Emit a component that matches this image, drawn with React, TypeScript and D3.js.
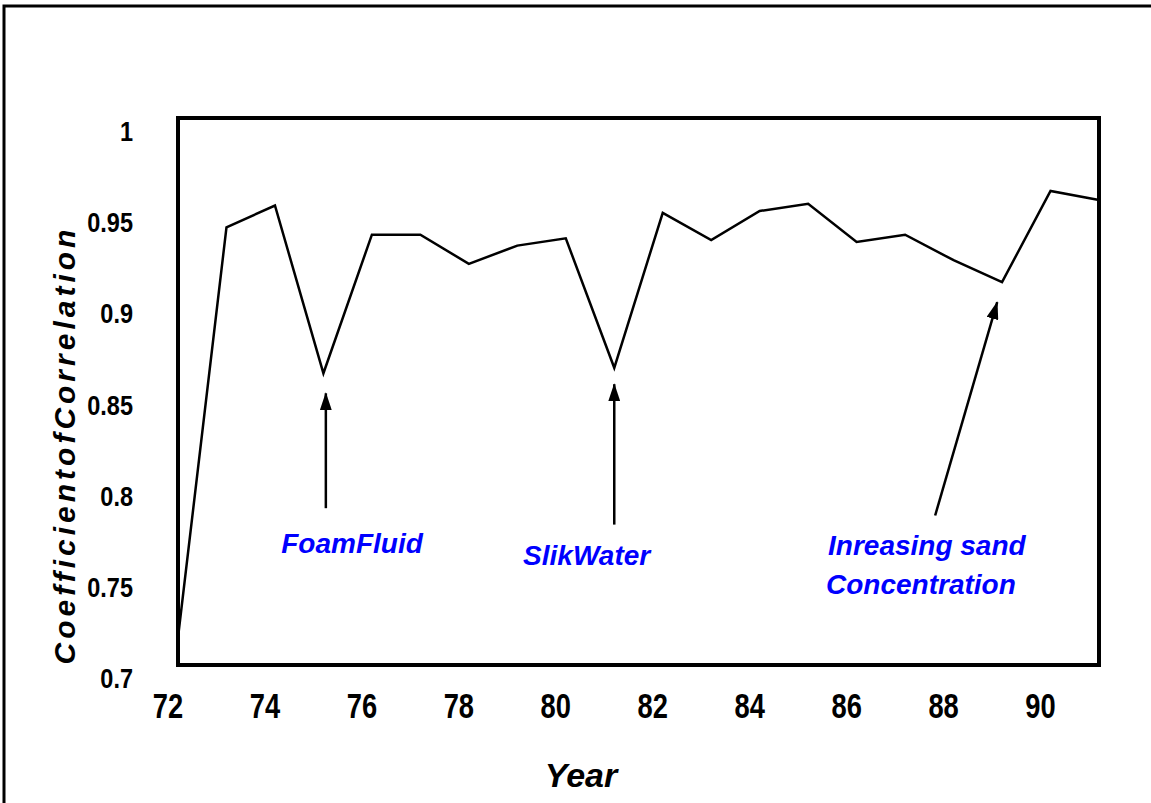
import { useEffect, useRef } from 'react';
import * as d3 from 'd3';

const years = [72, 73, 74, 75, 76, 77, 78, 79, 80, 81, 82, 83, 84, 85, 86, 87, 88, 89, 90, 91];
const correlation = [
  0.715, 0.94, 0.952, 0.86, 0.936, 0.936, 0.92, 0.93, 0.934, 0.863,
  0.948, 0.933, 0.949, 0.953, 0.932, 0.936, 0.922, 0.91, 0.96, 0.955,
];
const xTicks = [72, 74, 76, 78, 80, 82, 84, 86, 88, 90];
const yTicks = [0.7, 0.75, 0.8, 0.85, 0.9, 0.95, 1];

// arrows: tail -> tip, in data units
const arrows = [
  { x1: 75.05, y1: 0.786, x2: 75.05, y2: 0.849 },
  { x1: 81.0, y1: 0.777, x2: 81.0, y2: 0.854 },
  { x1: 87.62, y1: 0.782, x2: 88.9, y2: 0.899 },
];
const notes = [
  { lines: ['FoamFluid'], x: 75.59, y: 0.7614, anchor: 'middle' },
  { lines: ['SlikWater'], x: 80.43, y: 0.7548, anchor: 'middle' },
  { lines: ['Inreasing sand', 'Concentration'], x: 85.41, y: 0.7603, anchor: 'start' },
];

const FONT = '"Liberation Sans", Arial, sans-serif';

export default function App() {
  const svgRef = useRef<SVGSVGElement>(null);

  useEffect(() => {
    if (!svgRef.current) return;
    const svg = d3.select(svgRef.current);
    svg.selectAll('*').remove();

    const width = 1151;
    const height = 803;
    const left = 178;
    const right = 1099;
    const top = 118;
    const bottom = 665;

    svg.attr('width', width).attr('height', height);

    const x = d3.scaleLinear().domain([72, 91]).range([left, right]);
    const y = d3.scaleLinear().domain([0.7, 1]).range([bottom, top]);

    // outer frame (runs off the right and bottom edges)
    svg.append('rect')
      .attr('x', 4).attr('y', 6)
      .attr('width', 1300).attr('height', 1000)
      .attr('fill', 'none')
      .attr('stroke', '#000')
      .attr('stroke-width', 3);

    svg.append('defs').append('marker')
      .attr('id', 'head')
      .attr('markerUnits', 'userSpaceOnUse')
      .attr('markerWidth', 18).attr('markerHeight', 12)
      .attr('refX', 17).attr('refY', 6)
      .attr('orient', 'auto')
      .append('path')
      .attr('d', 'M0,0 L18,6 L0,12 Z')
      .attr('fill', '#000');

    // data line
    const line = d3.line<number>()
      .x((_, i) => x(years[i]))
      .y((d) => y(d));

    svg.append('path')
      .attr('d', line(correlation) as string)
      .attr('fill', 'none')
      .attr('stroke', '#000')
      .attr('stroke-width', 2.5)
      .attr('stroke-linejoin', 'miter');

    // plot frame
    svg.append('rect')
      .attr('x', left).attr('y', top)
      .attr('width', right - left).attr('height', bottom - top)
      .attr('fill', 'none')
      .attr('stroke', '#000')
      .attr('stroke-width', 4);

    // x tick labels
    xTicks.forEach((t) => {
      svg.append('text')
        .attr('transform', `translate(${x(t) - 10},${bottom + 53}) scale(0.78,1)`)
        .attr('text-anchor', 'middle')
        .attr('font-family', FONT)
        .attr('font-weight', 'bold')
        .attr('font-size', '35px')
        .attr('fill', '#000')
        .text(String(t));
    });

    // y tick labels
    yTicks.forEach((t) => {
      svg.append('text')
        .attr('transform', `translate(133,${y(t) + 23}) scale(0.87,1)`)
        .attr('text-anchor', 'end')
        .attr('font-family', FONT)
        .attr('font-weight', 'bold')
        .attr('font-size', '27px')
        .attr('fill', '#000')
        .text(d3.format('')(t));
    });

    // axis titles
    svg.append('text')
      .attr('x', 581).attr('y', 787)
      .attr('text-anchor', 'middle')
      .attr('font-family', FONT)
      .attr('font-weight', 'bold')
      .attr('font-style', 'italic')
      .attr('font-size', '34px')
      .attr('fill', '#000')
      .text('Year');

    svg.append('text')
      .attr('transform', 'translate(75,445) rotate(-90)')
      .attr('text-anchor', 'middle')
      .attr('font-family', FONT)
      .attr('font-weight', 'bold')
      .attr('font-style', 'italic')
      .attr('font-size', '30px')
      .attr('letter-spacing', '4px')
      .attr('fill', '#000')
      .text('CoefficientofCorrelation');

    // arrows
    arrows.forEach((a) => {
      svg.append('line')
        .attr('x1', x(a.x1)).attr('y1', y(a.y1))
        .attr('x2', x(a.x2)).attr('y2', y(a.y2))
        .attr('stroke', '#000')
        .attr('stroke-width', 2.5)
        .attr('marker-end', 'url(#head)');
    });

    // notes
    notes.forEach((n) => {
      const t = svg.append('text')
        .attr('x', x(n.x)).attr('y', y(n.y))
        .attr('text-anchor', n.anchor)
        .attr('font-family', FONT)
        .attr('font-weight', 'bold')
        .attr('font-style', 'italic')
        .attr('font-size', '28px')
        .attr('fill', '#0000ff');
      n.lines.forEach((l, i) => {
        t.append('tspan')
          .attr('x', x(n.x) - i * 2)
          .attr('dy', i === 0 ? 0 : 39)
          .text(l);
      });
    });
  }, []);

  return (
    <div style={{ position: 'absolute', left: 0, top: 0 }}>
      <svg ref={svgRef} style={{ display: 'block' }} />
    </div>
  );
}
